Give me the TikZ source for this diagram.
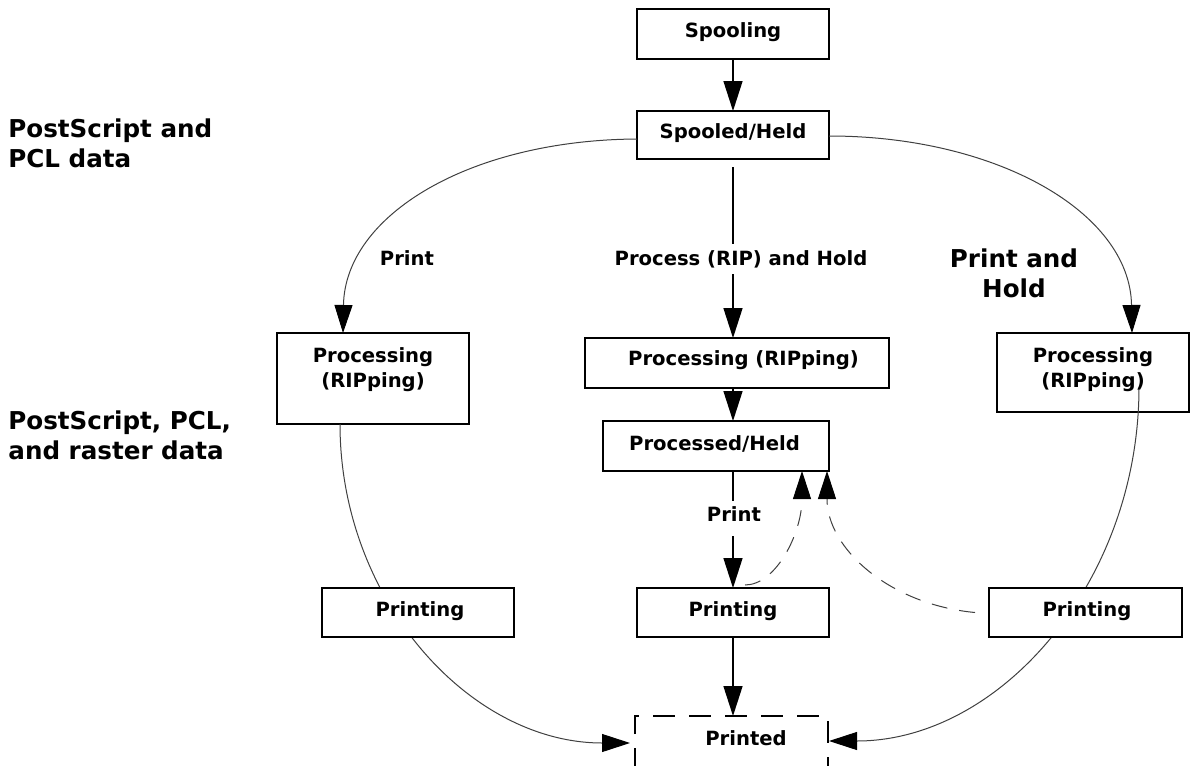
\documentclass[tikz,border=0pt]{standalone}
\usepackage{fontspec}
\setmainfont{DejaVu Sans}
\usetikzlibrary{arrows.meta,fit,calc}
\begin{document}
\begin{tikzpicture}[x=0.5pt,y=-0.5pt,
  box/.style={draw=black, line width=0.9pt, fill=white, inner sep=0pt, outer sep=0pt},
  lbl/.style={font=\bfseries\fontsize{9.8}{12.5}\selectfont, inner sep=0pt, align=center},
  big/.style={font=\bfseries\fontsize{12.3}{15.25}\selectfont, inner sep=0pt},
  arr/.style={line width=0.75pt, -{Triangle[length=15pt,width=9.5pt]}},
  carr/.style={line width=0.5pt, draw=black!75, -{Triangle[length=14pt,width=9pt,color=black]}},
  dcarr/.style={carr, dash pattern=on 8pt off 6pt},
]
\useasboundingbox (0,0) rectangle (1190,766);

% upper boxes
\node[box, fit={(637,9) (829,59)}] (sp) {};
\node[box, fit={(637,111) (829,159)}] (sh) {};
\node[box, fit={(277,333) (469,424)}] (lp) {};
\node[box, fit={(585,338) (889,388)}] (mp) {};
\node[box, fit={(997,333) (1189,412)}] (rp) {};
\node[box, fit={(603,421) (829,471)}] (ph) {};
\node[inner sep=0pt, outer sep=0pt, fit={(635,716) (828,770)}] (ptd) {};
\draw[line width=0.9pt, dash pattern=on 11pt off 7pt]
  (ptd.south west) -- (ptd.north west) -- (ptd.north east) -- (ptd.south east);

% long curves
\draw[carr] ($(sh.west)+(0,4)$) .. controls +(-167,1) and +(2,-118) .. ($(lp.north)+(-30,0)$);
\draw[carr] ($(sh.east)+(0,1)$) .. controls +(167,0) and +(-2,-121) .. ($(rp.north)+(39,0)$);
\draw[carr] ($(lp.south)+(-33,0)$) .. controls +(0,176) and +(-160,0) .. ($(ptd.west)+(-5,0)$);
\draw[carr] ($(rp.center)+(46,14.5)$) .. controls +(0,195) and +(171,0) .. ($(ptd.east)+(1,-2)$);

% lower boxes
\node[box, fit={(322,588) (514,637)}] (lpr) {};
\node[box, fit={(637,588) (829,637)}] (pm) {};
\node[box, fit={(989,588) (1182,637)}] (rpr) {};

% straight arrows
\draw[arr] (sp) -- (sh);
\draw[arr] ($(sh.south)+(0,8)$) -- (sh.south |- mp.north);
\draw[arr] (sh.south |- mp.south) -- (sh.south |- ph.north);
\draw[arr] (sh.south |- ph.south) -- (pm.north);
\draw[arr] (pm.south) -- (pm.south |- ptd.north);

% dashed return arrows
\draw[dcarr] ($(pm.north)+(12,-3)$) .. controls +(31,0) and +(0,62) .. ($(ph.south east)+(-27,0)$);
\draw[dcarr] ($(rpr.west)+(-14,0)$) .. controls +(-85,-8) and +(0,78) .. ($(ph.south east)+(-2,0)$);

% texts
\node[lbl, anchor=base] (t1) at (733,37) {Spooling};
\node[lbl, anchor=base] (t2) at (733,138.5) {Spooled/Held};
\node[lbl, anchor=base] (t3) at (407,265) {Print};
\node[lbl, anchor=base, fill=white, inner sep=3pt] (t4) at (741,265) {Process (RIP) and Hold};
\node[big, anchor=north, align=center] (t5) at (1014,248) {Print and\\Hold};
\node[lbl, anchor=north] (t6) at (373,347) {Processing\\(RIPping)};
\node[lbl, anchor=base] (t7) at (743.5,365.7) {Processing (RIPping)};
\node[lbl, anchor=north] (t8) at (1093,347) {Processing\\(RIPping)};
\node[lbl, anchor=base] (t9) at (714.5,450.7) {Processed/Held};
\node[lbl, anchor=base, fill=white, inner sep=3pt, text depth=4pt] (t10) at (734,521.7) {Print};
\node[lbl, anchor=base] (t11) at (420,616.5) {Printing};
\node[lbl, anchor=base] (t12) at (733,616) {Printing};
\node[lbl, anchor=base] (t13) at (1087,616.5) {Printing};
\node[lbl, anchor=base] (t14) at (746,745.7) {Printed};
\node[big, anchor=north west, align=left] (t15) at (8,118) {PostScript and\\PCL data};
\node[big, anchor=north west, align=left] (t16) at (8,410) {PostScript, PCL,\\and raster data};
\end{tikzpicture}
\end{document}
